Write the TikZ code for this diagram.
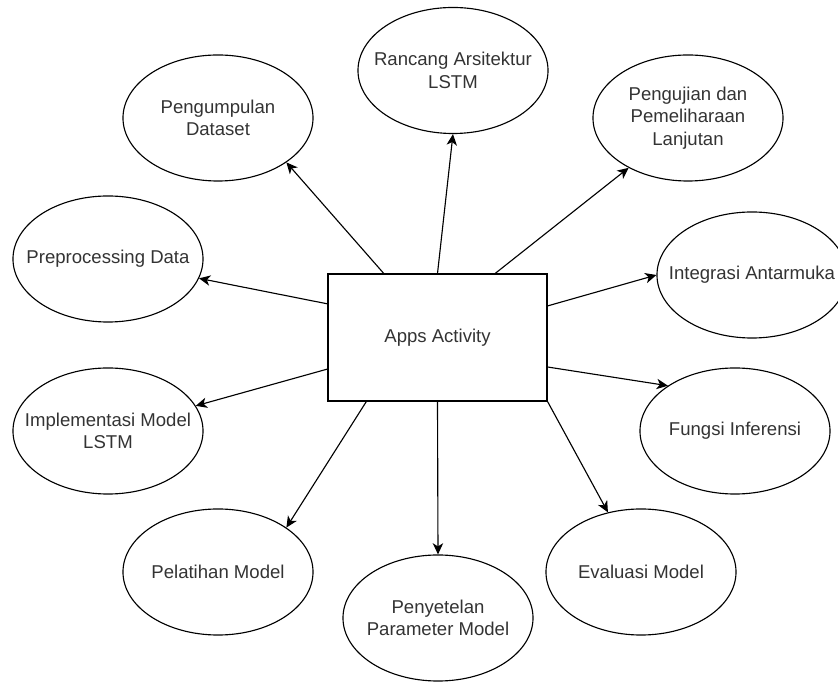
\documentclass[tikz,border=0pt]{standalone}
\usepackage{fontspec}
\setmainfont{Liberation Sans}
\usetikzlibrary{shapes.geometric,arrows.meta}
\begin{document}
\begin{tikzpicture}[x=0.025cm, y=-0.025cm, line width=0.8pt,
  font=\fontsize{13.2}{15.9}\selectfont,
  act/.style={draw, ellipse, minimum width=4.75cm, minimum height=3.15cm, inner sep=-0.5cm, align=center, text=black!80},
  main/.style={draw, rectangle, minimum width=5.475cm, minimum height=3.175cm, inner sep=0pt, text=black!80},
  link/.style={-{Stealth[length=2.8mm, width=2.6mm, inset=0.8mm]}}]
\useasboundingbox (0,0) rectangle (838,682);
\node[main] (app) at (437.5,337.5) {Apps Activity};
\node[act] (pengumpulan) at (218,118) {Pengumpulan\\Dataset};
\node[act] (rancang) at (453,70.5) {Rancang Arsitektur\\LSTM};
\node[act] (pengujian) at (688,118) {Pengujian dan\\Pemeliharaan\\Lanjutan};
\node[act] (preprocessing) at (108,259) {Preprocessing Data};
\node[act] (integrasi) at (752,275) {Integrasi Antarmuka};
\node[act] (implementasi) at (108,431) {Implementasi Model\\LSTM};
\node[act] (fungsi) at (735,431) {Fungsi Inferensi};
\node[act] (pelatihan) at (218,572) {Pelatihan Model};
\node[act] (penyetelan) at (438,618) {Penyetelan\\Parameter Model};
\node[act] (evaluasi) at (641,572) {Evaluasi Model};
\draw[link] (app.130.6) -- (pengumpulan.-33);
\draw[link] (app.north) -- (rancang.south);
\draw[link] (app.48.8) -- (pengujian.-140.7);
\draw[link] (app.163.5) -- (preprocessing.-12.3);
\draw[link] (app.16.9) -- (integrasi.west);
\draw[link] (app.196) -- (implementasi.16.3);
\draw[link] (app.-15.9) -- (fungsi.146.7);
\draw[link] (app.222.8) -- (pelatihan.33);
\draw[link] (app.south) -- (penyetelan.north);
\draw[link] (app.south east) -- (evaluasi.119.5);
\end{tikzpicture}
\end{document}
